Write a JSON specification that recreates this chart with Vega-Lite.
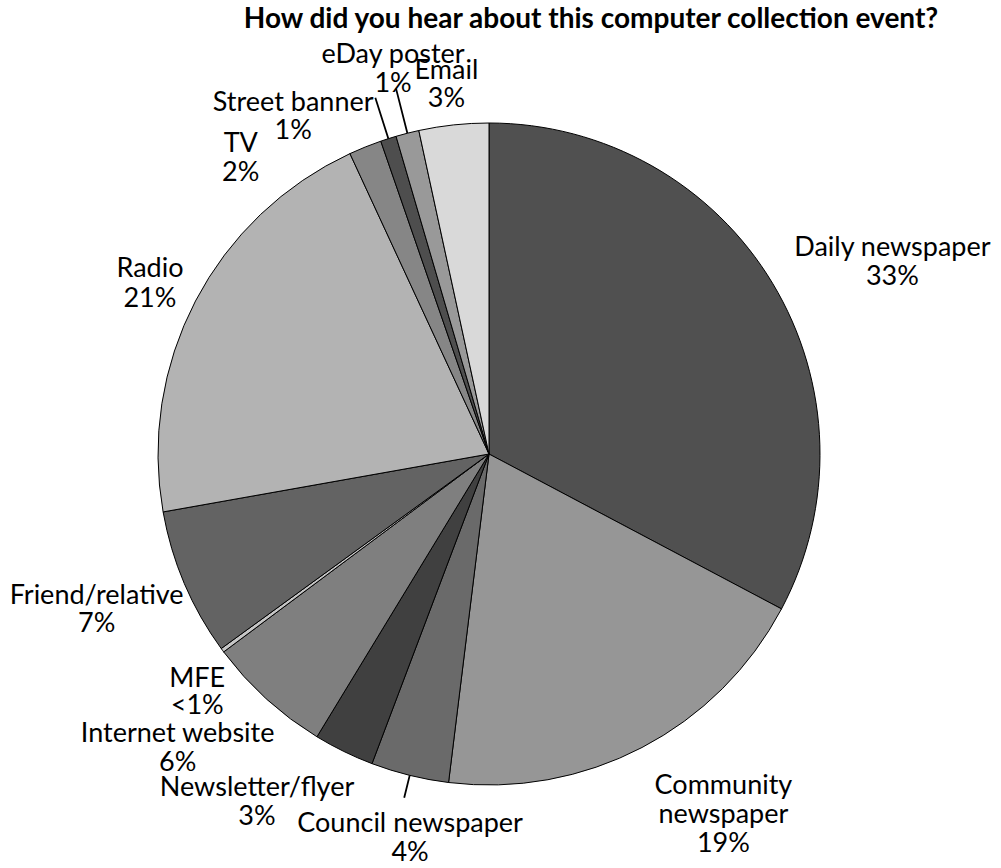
{
  "$schema": "https://vega.github.io/schema/vega-lite/v6.json",
  "width": 978,
  "height": 828,
  "autosize": {"type": "none"},
  "padding": {"left": 0, "top": 40, "right": 23, "bottom": 0},
  "background": "white",
  "config": {"view": {"stroke": null}, "font": "Lato"},
  "title": {"text": "How did you hear about this computer collection event?", "anchor": "middle", "frame": "group", "dx": 102, "font": "Lato", "fontSize": 28, "fontWeight": "bold", "color": "black", "offset": -66},
  "data": {"values": [
    {"cat": "Daily newspaper", "label": "Daily newspaper\n33%", "value": 32.75, "order": 1},
    {"cat": "Community newspaper", "label": "Community\nnewspaper\n19%", "value": 19.2, "order": 2},
    {"cat": "Council newspaper", "label": "Council newspaper\n4%", "value": 3.8, "order": 3},
    {"cat": "Newsletter/flyer", "label": "Newsletter/flyer\n3%", "value": 2.95, "order": 4},
    {"cat": "Internet website", "label": "Internet website\n6%", "value": 6.1, "order": 5},
    {"cat": "MFE", "label": "MFE\n<1%", "value": 0.2, "order": 6},
    {"cat": "Friend/relative", "label": "Friend/relative\n7%", "value": 7.2, "order": 7},
    {"cat": "Radio", "label": "Radio\n21%", "value": 20.9, "order": 8},
    {"cat": "TV", "label": "TV\n2%", "value": 1.6, "order": 9},
    {"cat": "Street banner", "label": "Street banner\n1%", "value": 0.77, "order": 10},
    {"cat": "eDay poster", "label": "eDay poster\n1%", "value": 1.13, "order": 11},
    {"cat": "Email", "label": "Email\n3%", "value": 3.4, "order": 12}
  ]},
  "encoding": {
    "theta": {"field": "value", "type": "quantitative", "stack": true},
    "order": {"field": "order", "type": "quantitative"}
  },
  "layer": [
    {
      "mark": {"type": "arc", "radius": 331, "stroke": "black", "strokeWidth": 1},
      "encoding": {
        "color": {"field": "cat", "type": "nominal", "legend": null,
          "scale": {"domain": ["Daily newspaper", "Community newspaper", "Council newspaper", "Newsletter/flyer", "Internet website", "MFE", "Friend/relative", "Radio", "TV", "Street banner", "eDay poster", "Email"],
                    "range": ["#505050", "#969696", "#6a6a6a", "#404040", "#7f7f7f", "#c6c6c6", "#636363", "#b3b3b3", "#868686", "#4e4e4e", "#999999", "#d9d9d9"]}}
      }
    },
    {
      "mark": {"type": "arc", "radius": 354, "radius2": 331, "padAngle": 0.4, "fillOpacity": 0, "stroke": "black", "strokeWidth": 1.8},
      "encoding": {"strokeOpacity": {"condition": {"test": "datum.cat === 'Council newspaper'", "value": 1}, "value": 0}}
    },
    {
      "mark": {"type": "arc", "radius": 374, "radius2": 331, "padAngle": 0.4, "fillOpacity": 0, "stroke": "black", "strokeWidth": 1.8},
      "encoding": {"strokeOpacity": {"condition": {"test": "datum.cat === 'Street banner'", "value": 1}, "value": 0}}
    },
    {
      "mark": {"type": "arc", "radius": 377, "radius2": 331, "padAngle": 0.4, "fillOpacity": 0, "stroke": "black", "strokeWidth": 1.8},
      "encoding": {"strokeOpacity": {"condition": {"test": "datum.cat === 'eDay poster'", "value": 1}, "value": 0}}
    },
    {
      "mark": {"type": "text", "radius": 444, "dx": 23, "dy": 23.5, "font": "Lato", "fontSize": 27, "lineBreak": "\n", "lineHeight": 29, "align": "center", "baseline": "middle", "color": "black"},
      "encoding": {"text": {"condition": {"test": "datum.cat === 'Daily newspaper'", "field": "label", "type": "nominal"}, "value": ""}}
    },
    {
      "mark": {"type": "text", "radius": 427, "dx": 37, "dy": -47, "font": "Lato", "fontSize": 27, "lineBreak": "\n", "lineHeight": 29, "align": "center", "baseline": "middle", "color": "black"},
      "encoding": {"text": {"condition": {"test": "datum.cat === 'Community newspaper'", "field": "label", "type": "nominal"}, "value": ""}}
    },
    {
      "mark": {"type": "text", "radius": 392, "dx": 15, "dy": -10.5, "font": "Lato", "fontSize": 27, "lineBreak": "\n", "lineHeight": 29, "align": "center", "baseline": "middle", "color": "black"},
      "encoding": {"text": {"condition": {"test": "datum.cat === 'Council newspaper'", "field": "label", "type": "nominal"}, "value": ""}}
    },
    {
      "mark": {"type": "text", "radius": 415, "dx": -50, "dy": -39, "font": "Lato", "fontSize": 27, "lineBreak": "\n", "lineHeight": 29, "align": "center", "baseline": "middle", "color": "black"},
      "encoding": {"text": {"condition": {"test": "datum.cat === 'Newsletter/flyer'", "field": "label", "type": "nominal"}, "value": ""}}
    },
    {
      "mark": {"type": "text", "radius": 427, "dx": -24, "dy": -35.5, "font": "Lato", "fontSize": 27, "lineBreak": "\n", "lineHeight": 29, "align": "center", "baseline": "middle", "color": "black"},
      "encoding": {"text": {"condition": {"test": "datum.cat === 'Internet website'", "field": "label", "type": "nominal"}, "value": ""}}
    },
    {
      "mark": {"type": "text", "radius": 376, "dx": 11, "dy": 2.5, "font": "Lato", "fontSize": 27, "lineBreak": "\n", "lineHeight": 27, "align": "center", "baseline": "middle", "color": "black"},
      "encoding": {"text": {"condition": {"test": "datum.cat === 'MFE'", "field": "label", "type": "nominal"}, "value": ""}}
    },
    {
      "mark": {"type": "text", "radius": 422, "dx": -4, "dy": -23, "font": "Lato", "fontSize": 27, "lineBreak": "\n", "lineHeight": 28, "align": "center", "baseline": "middle", "color": "black"},
      "encoding": {"text": {"condition": {"test": "datum.cat === 'Friend/relative'", "field": "label", "type": "nominal"}, "value": ""}}
    },
    {
      "mark": {"type": "text", "radius": 379, "dx": -3, "dy": -10, "font": "Lato", "fontSize": 27, "lineBreak": "\n", "lineHeight": 30, "align": "center", "baseline": "middle", "color": "black"},
      "encoding": {"text": {"condition": {"test": "datum.cat === 'Radio'", "field": "label", "type": "nominal"}, "value": ""}}
    },
    {
      "mark": {"type": "text", "radius": 367, "dx": -111, "dy": 30.5, "font": "Lato", "fontSize": 27, "lineBreak": "\n", "lineHeight": 29, "align": "center", "baseline": "middle", "color": "black"},
      "encoding": {"text": {"condition": {"test": "datum.cat === 'TV'", "field": "label", "type": "nominal"}, "value": ""}}
    },
    {
      "mark": {"type": "text", "radius": 381, "dx": -80, "dy": 12, "font": "Lato", "fontSize": 27, "lineBreak": "\n", "lineHeight": 28, "align": "center", "baseline": "middle", "color": "black"},
      "encoding": {"text": {"condition": {"test": "datum.cat === 'Street banner'", "field": "label", "type": "nominal"}, "value": ""}}
    },
    {
      "mark": {"type": "text", "radius": 397, "dx": 2, "dy": -14.5, "font": "Lato", "fontSize": 27, "lineBreak": "\n", "lineHeight": 29, "align": "center", "baseline": "middle", "color": "black"},
      "encoding": {"text": {"condition": {"test": "datum.cat === 'eDay poster'", "field": "label", "type": "nominal"}, "value": ""}}
    },
    {
      "mark": {"type": "text", "radius": 371, "dx": -3, "dy": -14, "font": "Lato", "fontSize": 27, "lineBreak": "\n", "lineHeight": 28, "align": "center", "baseline": "middle", "color": "black"},
      "encoding": {"text": {"condition": {"test": "datum.cat === 'Email'", "field": "label", "type": "nominal"}, "value": ""}}
    }
  ]
}
